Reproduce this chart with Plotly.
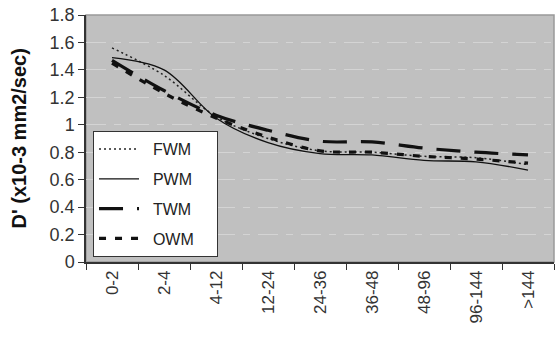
import plotly.graph_objects as go

categories = ["0-2", "2-4", "4-12", "12-24", "24-36", "36-48", "48-96", "96-144", ">144"]
fwm = [1.56, 1.36, 1.06, 0.90, 0.81, 0.80, 0.77, 0.76, 0.71]
pwm = [1.49, 1.40, 1.05, 0.87, 0.79, 0.78, 0.74, 0.73, 0.67]
twm = [1.47, 1.25, 1.07, 0.96, 0.88, 0.875, 0.83, 0.80, 0.78]
owm = [1.45, 1.23, 1.05, 0.91, 0.81, 0.80, 0.77, 0.75, 0.72]
y_ticks = [0, 0.2, 0.4, 0.6, 0.8, 1, 1.2, 1.4, 1.6, 1.8]
y_tick_labels = ["0", "0.2", "0.4", "0.6", "0.8", "1", "1.2", "1.4", "1.6", "1.8"]
y_title = "D' (x10-3 mm2/sec)"

series = [
    ("FWM", fwm, dict(color="#222", width=1.5, dash="2px,3px")),
    ("PWM", pwm, dict(color="#111", width=1.3, dash="solid")),
    ("TWM", twm, dict(color="#111", width=3.2, dash="24px,14px")),
    ("OWM", owm, dict(color="#111", width=3.2, dash="7px,9px")),
]

fig = go.Figure()
for name, vals, ln in series:
    fig.add_trace(go.Scatter(
        x=categories, y=vals, name="\u00a0\u00a0" + name + "\u00a0" * 4, mode="lines",
        line=dict(shape="spline", smoothing=1.0, **ln),
        legendgroup=name,
    ))

fig.update_layout(
    width=555, height=344,
    margin=dict(l=86, r=1, t=15, b=82),
    paper_bgcolor="white",
    plot_bgcolor="#c0c0c0",
    font=dict(family="Liberation Sans, Arial, sans-serif", color="#333"),
    showlegend=True,
    legend=dict(
        x=0.015, y=0.530, xanchor="left", yanchor="top",
        bgcolor="white", bordercolor="#333", borderwidth=1,
        font=dict(size=16, color="#222"),
        traceorder="grouped", tracegroupgap=6,
        itemwidth=40,
    ),
    shapes=[dict(type="rect", xref="paper", yref="paper", x0=0, x1=1, y0=0, y1=1,
                 line=dict(color="#999", width=1.5), layer="below")],
    annotations=[dict(
        text="<b>" + y_title + "</b>", textangle=-90,
        xref="paper", yref="paper", x=(18 - 86) / 468, y=0.5,
        xanchor="center", yanchor="middle", showarrow=False,
        font=dict(size=20, color="#111"),
    )],
)

fig.update_xaxes(
    type="category", range=[-0.5, 8.5], automargin=False,
    tickson="boundaries", ticks="outside", ticklen=6, tickcolor="#333",
    tickangle=-90, tickfont=dict(size=17, color="#333"),
    showline=True, linecolor="#333", linewidth=1.5,
    showgrid=False,
)
fig.update_yaxes(
    range=[0, 1.8], tickvals=y_ticks, ticktext=y_tick_labels, automargin=False,
    ticklabeloverflow="allow",
    ticks="outside", ticklen=6, tickcolor="#333",
    tickfont=dict(size=18, color="#333"),
    showline=True, linecolor="#333", linewidth=1.5,
    showgrid=True, gridcolor="#d4d4d4", griddash="20px,8px,7px,8px", gridwidth=1,
    zeroline=False,
)

# remove the default 8px page margin so the 555x344 figure fills the window exactly
fig.write_html("out.html", config={"displayModeBar": False},
               post_script="document.body.style.margin='0';")
